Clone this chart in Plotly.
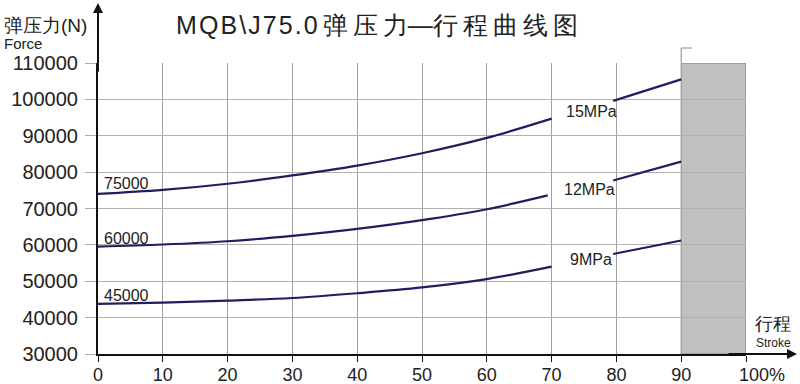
import plotly.graph_objects as go

# ---- data ----
stroke_a = [0, 10, 20, 30, 40, 50, 60, 70]
stroke_a12 = [0, 10, 20, 30, 40, 50, 60, 69.4]
stroke_b = [79.5, 90]

p15_a = [74000, 75100, 76800, 79100, 81800, 85200, 89400, 94700]
p15_b = [99600, 105500]
p12_a = [59500, 60100, 61000, 62500, 64400, 66800, 69800, 73600]
p12_b = [77700, 82900]
p9_a = [43800, 44150, 44700, 45400, 46700, 48300, 50600, 54000]
p9_b = [57500, 61200]

series_labels = ["15MPa", "12MPa", "9MPa"]
start_labels = ["75000", "60000", "45000"]
x_ticks = [0, 10, 20, 30, 40, 50, 60, 70, 80, 90]
x_ticktext = ["0", "10", "20", "30", "40", "50", "60", "70", "80", "90"]
x_last_label = "100%"
y_ticks = [30000, 40000, 50000, 60000, 70000, 80000, 90000, 100000, 110000]
shaded_x = [90, 100]

LINE = "#231c5f"
FONT = "Liberation Sans, Arial, sans-serif"
TXT = "#222222"

L, R, T, B = 98, 54, 63, 30
PW, PH = 800 - L - R, 384 - T - B


def px(xp):
    return (xp - L) / PW


def py(yp):
    return (384 - B - yp) / PH


fig = go.Figure()
segs = [
    (stroke_a, p15_a), (stroke_b, p15_b),
    (stroke_a12, p12_a), (stroke_b, p12_b),
    (stroke_a, p9_a), (stroke_b, p9_b),
]
for xs, ys in segs:
    fig.add_trace(go.Scatter(x=xs, y=ys, mode="lines", line=dict(color=LINE, width=2.2, shape="spline"),
                             showlegend=False, hoverinfo="skip"))

# shaded region
fig.add_shape(type="rect", xref="x", yref="y", x0=shaded_x[0], x1=shaded_x[1], y0=30000, y1=110000,
              fillcolor="#c0c0c0", line=dict(color="#808080", width=1), layer="below")

# start value labels
for txt, yv in zip(start_labels, [76760, 61650, 46000]):
    fig.add_annotation(x=0.6, y=yv, xref="x", yref="y", text=txt, showarrow=False, xanchor="left",
                       yanchor="middle", font=dict(size=16, color=TXT, family=FONT))
# series labels
for txt, xv, yv in zip(series_labels, [76.1, 75.9, 76.1], [96680, 75250, 55880]):
    fig.add_annotation(x=xv, y=yv, xref="x", yref="y", text=txt, showarrow=False, xanchor="center",
                       yanchor="middle", font=dict(size=16, color=TXT, family=FONT))

# last x tick label
fig.add_annotation(x=100, y=0, xref="x", yref="paper", text=x_last_label, showarrow=False,
                   xanchor="left", yanchor="top", xshift=-9, yshift=-9,
                   font=dict(size=18, color=TXT, family=FONT))

# axis arrows
fig.add_annotation(x=0, y=py(3), xref="paper", yref="paper", ax=0, ay=70, text="", showarrow=True,
                   arrowhead=2, arrowsize=1, arrowwidth=2, arrowcolor="#111")
fig.add_annotation(x=px(797), y=0, xref="paper", yref="paper", ax=-70, ay=0, text="", showarrow=True,
                   arrowhead=2, arrowsize=1, arrowwidth=2, arrowcolor="#111")

# small bracket above shaded region
fig.add_shape(type="line", xref="paper", yref="paper", x0=0.9, x1=0.9, y0=1.0, y1=py(48),
              line=dict(color="#888", width=1))
fig.add_shape(type="line", xref="paper", yref="paper", x0=0.9, x1=px(692), y0=py(48), y1=py(48),
              line=dict(color="#888", width=1))

# titles
title = "\u200a".join(list("MQB\\J75.0")) + "\u2009" + "\u2009".join(list("弹压力")) + "—" + "\u2009".join(list("行程曲线图"))
fig.add_annotation(x=px(377), y=py(25), xref="paper", yref="paper", text=title, showarrow=False,
                   xanchor="center", yanchor="middle", font=dict(size=25, color=TXT, family=FONT))
fig.add_annotation(x=px(2), y=py(25), xref="paper", yref="paper", text="弹压力(N)",
                   showarrow=False, xanchor="left", yanchor="middle", font=dict(size=19, color=TXT, family=FONT))
fig.add_annotation(x=px(2), y=py(43), xref="paper", yref="paper", text="Force",
                   showarrow=False, xanchor="left", yanchor="middle", font=dict(size=15, color=TXT, family=FONT))
fig.add_annotation(x=px(773), y=py(324), xref="paper", yref="paper", text="行程",
                   showarrow=False, xanchor="center", yanchor="middle", font=dict(size=18, color=TXT, family=FONT))
fig.add_annotation(x=px(773), y=py(343), xref="paper", yref="paper", text="Stroke",
                   showarrow=False, xanchor="center", yanchor="middle", font=dict(size=12, color=TXT, family=FONT))

fig.update_layout(
    width=800, height=384,
    margin=dict(l=L, r=R, t=T, b=B),
    paper_bgcolor="white", plot_bgcolor="white",
    font=dict(family=FONT, color=TXT),
    xaxis=dict(range=[0, 100], tickvals=x_ticks + [100], ticktext=x_ticktext + [""], automargin=False,
               showgrid=True, gridcolor="#a0a0a0", gridwidth=1, zeroline=False,
               showline=True, linecolor="#111", linewidth=2, ticklabelstandoff=-3,
               ticks="outside", ticklen=6, tickcolor="#111", tickfont=dict(size=18, family=FONT, color=TXT)),
    yaxis=dict(range=[30000, 110000], tickvals=y_ticks, ticktext=[str(v) for v in y_ticks], automargin=False,
               showgrid=True, gridcolor="#b0b0b0", gridwidth=1, zeroline=False,
               showline=True, linecolor="#111", linewidth=2, ticklabelstandoff=3,
               ticks="outside", ticklen=11, tickcolor="#aaaaaa", tickfont=dict(size=20, family=FONT, color=TXT)),
)

fig.write_html("out.html", config={"displayModeBar": False},
               post_script="document.body.style.margin='0';document.body.style.padding='0';")
